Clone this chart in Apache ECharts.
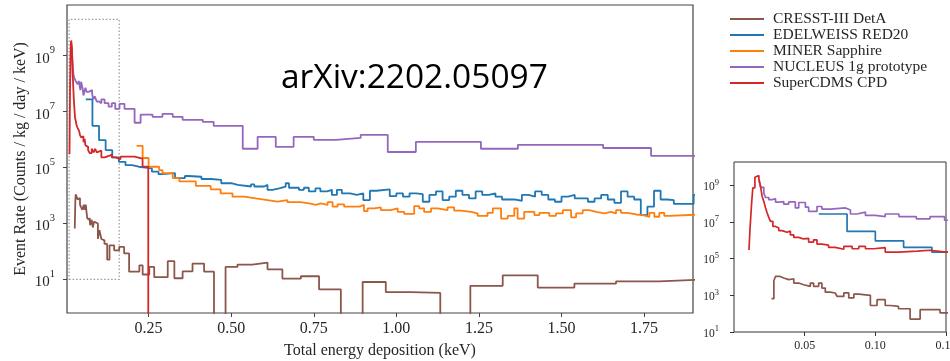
<!DOCTYPE html>
<html>
<head>
<meta charset="utf-8">
<script src="https://cdn.jsdelivr.net/npm/echarts@6/dist/echarts.min.js"></script>
<style>
  html, body { margin: 0; padding: 0; background: #fff; }
  #chart { width: 950px; height: 361px; }
</style>
</head>
<body>
<div id="chart"></div>
<script>
// bins are left edges (keV), rates in counts/kg/day/keV, *End = right edge of the last bin
const cresstBins = [0.0265, 0.0282, 0.0294, 0.0322, 0.0352, 0.0387, 0.0423, 0.0458, 0.0493, 0.054,
  0.0563, 0.0599, 0.0622, 0.0646, 0.0681, 0.0716, 0.073, 0.0777, 0.0812, 0.0848,
  0.0883, 0.0965, 0.1012, 0.107, 0.1106, 0.1164, 0.1246, 0.1317, 0.1458, 0.161,
  0.176, 0.191, 0.222, 0.232, 0.252, 0.267, 0.308, 0.328, 0.353, 0.383,
  0.418, 0.448, 0.483, 0.519, 0.564, 0.61, 0.655, 0.711, 0.766, 0.832,
  0.898, 0.968, 1.044, 1.133, 1.224, 1.322, 1.428, 1.539, 1.665, 1.796];
const cresstRates = [660, 6300, 11000, 8900, 7200, 8100, 4700, 3800, 3100, 4700,
  3100, 4700, 2500, 1500, 1350, 1600, 870, 1350, 720, 1170,
  1000, 280, 580, 280, 250, 186, 51, 166, 110, 145,
  85, 19, 32, 15, 28, 12, 45, 11, 19.5, 37,
  19, 0, 28, 34, 40, 23, 10.7, 13, 4.4, 0,
  8.1, 3.5, 3.3, 0, 5.9, 14, 5.1, 7.1, 8.5, 9.8];
const cresstEnd = 1.92;

const edelweissBins = [0.06, 0.08, 0.10, 0.12, 0.14, 0.16, 0.18, 0.20, 0.22, 0.26,
  0.28, 0.29, 0.33, 0.36, 0.37, 0.41, 0.44, 0.47, 0.50, 0.52,
  0.56, 0.57, 0.60, 0.61, 0.625, 0.645, 0.665, 0.675, 0.705, 0.72,
  0.735, 0.755, 0.77, 0.79, 0.805, 0.82, 0.835, 0.86, 0.88, 0.90,
  0.92, 0.94, 0.98, 1.00, 1.02, 1.04, 1.06, 1.08, 1.10, 1.12,
  1.14, 1.16, 1.18, 1.20, 1.22, 1.24, 1.26, 1.28, 1.30, 1.32,
  1.36, 1.38, 1.40, 1.42, 1.44, 1.46, 1.48, 1.50, 1.52, 1.54,
  1.58, 1.60, 1.62, 1.64, 1.66, 1.68, 1.70, 1.72, 1.74, 1.76,
  1.78, 1.80, 1.82, 1.84, 1.90];
const edelweissRates = [2.75e7, 3.1e6, 9.5e5, 4.2e5, 2.3e5, 1.6e5, 1.23e5, 1.07e5, 9.3e4, 7.1e4,
  5.8e4, 6.3e4, 4.2e4, 5.0e4, 4.7e4, 3.9e4, 3.6e4, 2.75e4, 2.4e4, 2.1e4,
  2.5e4, 2.1e4, 2.4e4, 1.6e4, 1.8e4, 2.1e4, 2.75e4, 1.9e4, 1.6e4, 1.9e4,
  1.4e4, 1.8e4, 1.4e4, 1.6e4, 1.05e4, 1.6e4, 1.2e4, 1.05e4, 1.2e4, 6.9e3,
  1.48e4, 1.66e4, 9.5e3, 1.2e4, 9.1e3, 1.2e4, 1.12e4, 6.0e3, 1.05e4, 1.4e4,
  6.9e3, 9.1e3, 1.48e4, 1.05e4, 7.9e3, 1.4e4, 1.05e4, 1.2e4, 9.1e3, 7.2e3,
  6.5e3, 1.05e4, 9.1e3, 1.4e4, 1.05e4, 7.2e3, 6.0e3, 9.1e3, 1.05e4, 7.9e3,
  6.0e3, 7.9e3, 1.05e4, 7.2e3, 5.5e3, 1.4e4, 9.1e3, 7.2e3, 2.0e3, 4.0e3,
  1.48e4, 7.2e3, 6.9e3, 5.0e3, 1.05e4];
const edelweissEnd = 1.92;

const minerBins = [0.2136, 0.232, 0.25, 0.282, 0.292, 0.323, 0.343, 0.393, 0.438, 0.468,
  0.504, 0.539, 0.574, 0.61, 0.64, 0.67, 0.71, 0.736, 0.756, 0.771,
  0.792, 0.807, 0.822, 0.842, 0.888, 0.902, 0.913, 0.933, 0.953, 0.983,
  1.004, 1.024, 1.054, 1.069, 1.084, 1.105, 1.125, 1.155, 1.175, 1.195,
  1.226, 1.246, 1.276, 1.292, 1.317, 1.337, 1.357, 1.367, 1.387, 1.418,
  1.433, 1.463, 1.483, 1.504, 1.529, 1.544, 1.564, 1.584, 1.605, 1.63,
  1.65, 1.665, 1.68, 1.70, 1.726, 1.746, 1.766, 1.781, 1.796, 1.811,
  1.826];
const minerRates = [6.0e5, 2.2e5, 1.07e5, 8.1e4, 6.3e4, 4.2e4, 3.2e4, 2.2e4, 1.66e4, 1.2e4,
  9.1e3, 7.9e3, 6.9e3, 6.0e3, 6.9e3, 5.8e3, 5.2e3, 4.6e3, 5.2e3, 4.6e3,
  5.8e3, 4.0e3, 4.8e3, 4.0e3, 4.6e3, 2.75e3, 3.5e3, 3.8e3, 3.0e3, 3.5e3,
  2.6e3, 2.2e3, 4.2e3, 3.5e3, 2.6e3, 3.5e3, 3.0e3, 3.8e3, 2.9e3, 2.6e3,
  2.3e3, 1.86e3, 2.4e3, 3.5e3, 1.5e3, 1.86e3, 3.5e3, 1.5e3, 2.6e3, 2.0e3,
  2.4e3, 1.86e3, 2.3e3, 3.0e3, 1.66e3, 2.3e3, 3.0e3, 2.6e3, 2.3e3, 2.6e3,
  2.3e3, 3.0e3, 2.4e3, 2.1e3, 2.0e3, 1.74e3, 2.4e3, 1.74e3, 2.4e3, 1.86e3,
  2.1e3];
const minerEnd = 1.92;

const nucleusBins = [0.0176, 0.0188, 0.0211, 0.0223, 0.0246, 0.027, 0.0294, 0.0317, 0.0352, 0.0387,
  0.0434, 0.0458, 0.0505, 0.0528, 0.0587, 0.0622, 0.0683, 0.0789, 0.0824, 0.0871,
  0.093, 0.1, 0.107, 0.1167, 0.129, 0.1387, 0.149, 0.162, 0.177, 0.2076,
  0.2258, 0.262, 0.292, 0.323, 0.353, 0.414, 0.447, 0.535, 0.58, 0.635,
  0.689, 0.75, 0.817, 0.892, 0.974, 1.059, 1.256, 1.368, 1.626, 1.771];
const nucleusRates = [2.0e9, 7.9e8, 3.8e8, 2.2e8, 1.66e8, 1.9e8, 1.23e8, 1.3e8, 9.5e7, 1.25e8,
  5.9e7, 1.17e8, 6.5e7, 3.8e7, 7.1e7, 5.1e7, 5.9e7, 4.6e7, 2.75e7, 3.5e7,
  2.3e7, 2.0e7, 2.75e7, 2.0e7, 1.5e7, 2.0e7, 1.26e7, 1.9e7, 1.26e7, 4.0e6,
  7.8e6, 6.5e6, 8.3e6, 6.5e6, 5.1e6, 4.3e6, 3.1e6, 4.7e5, 1.26e6, 5.5e5,
  1.26e6, 9.8e5, 1.15e6, 1.48e6, 3.6e5, 8.3e5, 4.7e5, 6.5e5, 5.0e5, 2.6e5];
const nucleusEnd = 1.92;

const supercdmsBins = [0.0106, 0.0113, 0.0124, 0.0133, 0.0148, 0.0157, 0.0176, 0.0188, 0.0199, 0.0211,
  0.0223, 0.0234, 0.0246, 0.0258, 0.0275, 0.0294, 0.0317, 0.034, 0.0375, 0.0399,
  0.0423, 0.0458, 0.0493, 0.0528, 0.0563, 0.0587, 0.0622, 0.0669, 0.0716, 0.0777,
  0.0836, 0.0883, 0.093, 0.0988, 0.107, 0.1167, 0.1294, 0.1387, 0.15, 0.165,
  0.2076, 0.2318, 0.249];
const supercdmsRates = [3.0e5, 4.0e6, 8.9e7, 7.4e8, 2.8e9, 3.5e9, 2.3e9, 8.9e8, 2.5e8, 1.35e8,
  6.0e7, 3.2e7, 1.8e7, 1.1e7, 5.8e6, 4.8e6, 3.4e6, 2.8e6, 3.2e6, 2.0e6,
  1.45e6, 1.2e6, 1.3e6, 8.1e5, 1.07e6, 6.3e5, 5.5e5, 4.2e5, 3.3e5, 4.7e5,
  3.5e5, 4.7e5, 3.5e5, 4.0e5, 2.3e5, 2.6e5, 2.9e5, 2.3e5, 2.0e5, 2.45e5,
  2.1e5, 1.07e5, 0];
const supercdmsEnd = 0.26;

const seriesNames = ['CRESST-III DetA', 'EDELWEISS RED20', 'MINER Sapphire', 'NUCLEUS 1g prototype', 'SuperCDMS CPD'];
const seriesColors = ['#8c564b', '#1f77b4', '#ff7f0e', '#9467bd', '#d62728'];

const xTicks = [0.25, 0.5, 0.75, 1.0, 1.25, 1.5, 1.75];
const insetXTicks = [0.05, 0.10, 0.15];
const yTicks = [1e1, 1e3, 1e5, 1e7, 1e9];
const zoomBox = [[0.0095, 10], [0.161, 2e10]];

const SERIF = '"Liberation Serif", "DejaVu Serif", serif';
const TEXT = '#262626';
const FLOOR = 1e-3; // empty bins drop below the log axis

function steps(bins, rates, end) {
  const pts = bins.map((x, i) => [x, rates[i] > 0 ? rates[i] : FLOOR]);
  pts.push([end, pts[pts.length - 1][1]]);
  return pts;
}

const sets = [
  steps(cresstBins, cresstRates, cresstEnd),
  steps(edelweissBins, edelweissRates, edelweissEnd),
  steps(minerBins, minerRates, minerEnd),
  steps(nucleusBins, nucleusRates, nucleusEnd),
  steps(supercdmsBins, supercdmsRates, supercdmsEnd)
];

function pow10(v) {
  return '{b|10}{s|' + Math.round(Math.log10(v)) + '}';
}

function makeLine(i, axis, width) {
  return {
    name: seriesNames[i],
    type: 'line',
    xAxisIndex: axis,
    yAxisIndex: axis,
    data: sets[i],
    step: 'end',
    symbol: 'none',
    showSymbol: false,
    clip: true,
    silent: true,
    lineStyle: { color: seriesColors[i], width: width },
    itemStyle: { color: seriesColors[i] }
  };
}

const series = [];
for (let i = 0; i < 5; i++) series.push(makeLine(i, 0, 1.8));
for (let i = 0; i < 5; i++) series.push(makeLine(i, 1, 1.7));
series[0].markArea = {
  silent: true,
  itemStyle: { color: 'rgba(0,0,0,0)', borderColor: '#9a9a9a', borderWidth: 1.2, borderType: [1.5, 2] },
  data: [[{ coord: zoomBox[0] }, { coord: zoomBox[1] }]]
};

const chart = echarts.init(document.getElementById('chart'));
chart.setOption({
  animation: false,
  backgroundColor: '#fff',
  textStyle: { fontFamily: SERIF, color: TEXT },
  grid: [
    { left: 67, top: 5, right: 257, bottom: 48, show: true, borderColor: '#444', borderWidth: 1.2, outerBoundsMode: 'none' },
    { left: 734, top: 162, right: 4, bottom: 29, show: true, borderColor: '#333', borderWidth: 1, outerBoundsMode: 'none' }
  ],
  legend: {
    orient: 'vertical',
    left: 725,
    top: 6,
    icon: 'rect',
    itemWidth: 34,
    itemHeight: 2,
    itemGap: 0,
    selectedMode: false,
    data: seriesNames,
    textStyle: { fontFamily: SERIF, fontSize: 15.5, color: TEXT, lineHeight: 14.5, padding: [0, 0, 0, 4] }
  },
  xAxis: [
    {
      type: 'value', gridIndex: 0, min: 0.003, max: 1.898,
      name: 'Total energy deposition (keV)', nameLocation: 'middle', nameGap: 30,
      nameTextStyle: { fontFamily: SERIF, fontSize: 16, color: TEXT },
      axisLine: { show: false }, splitLine: { show: false },
      axisTick: { show: true, length: 4, customValues: xTicks, lineStyle: { color: '#444' } },
      axisLabel: { customValues: xTicks, margin: 8, fontSize: 16, color: TEXT, fontFamily: SERIF,
        formatter: v => v.toFixed(2) }
    },
    {
      type: 'value', gridIndex: 1, min: 0, max: 0.15,
      axisLine: { show: false }, splitLine: { show: false },
      axisTick: { show: true, length: 4, customValues: insetXTicks, lineStyle: { color: '#333' } },
      axisLabel: { customValues: insetXTicks, margin: 8, fontSize: 12, color: TEXT, fontFamily: SERIF,
        formatter: v => v.toFixed(2) }
    }
  ],
  yAxis: [
    {
      type: 'log', logBase: 10, gridIndex: 0, min: 0.63, max: 6.5e10,
      name: 'Event Rate (Counts / kg / day / keV)', nameLocation: 'middle', nameGap: 38,
      nameMoveOverlap: false,
      nameTextStyle: { fontFamily: SERIF, fontSize: 16, color: TEXT },
      axisLine: { show: false }, splitLine: { show: false }, minorTick: { show: false },
      axisTick: { show: true, length: 4, customValues: yTicks, lineStyle: { color: '#444' } },
      axisLabel: {
        customValues: yTicks, margin: 12, formatter: pow10, color: TEXT,
        rich: {
          b: { fontFamily: SERIF, fontSize: 15, color: TEXT, lineHeight: 21, verticalAlign: 'bottom' },
          s: { fontFamily: SERIF, fontSize: 10.5, color: TEXT, lineHeight: 11, verticalAlign: 'top' }
        }
      }
    },
    {
      type: 'log', logBase: 10, gridIndex: 1, min: 10, max: 1.9e10,
      axisLine: { show: false }, splitLine: { show: false }, minorTick: { show: false },
      axisTick: { show: true, length: 4, customValues: yTicks, lineStyle: { color: '#333' } },
      axisLabel: {
        customValues: yTicks, margin: 15, formatter: pow10, color: TEXT,
        rich: {
          b: { fontFamily: SERIF, fontSize: 11.5, color: TEXT, lineHeight: 15, verticalAlign: 'bottom' },
          s: { fontFamily: SERIF, fontSize: 8.5, color: TEXT, lineHeight: 8, verticalAlign: 'top' }
        }
      }
    }
  ],
  graphic: [
    {
      type: 'text', x: 281, y: 78,
      style: { text: 'arXiv:2202.05097', fontFamily: '"Open Sans", sans-serif', fontSize: 33.5, fill: '#000', verticalAlign: 'middle' }
    }
  ],
  series: series
});
</script>
</body>
</html>
